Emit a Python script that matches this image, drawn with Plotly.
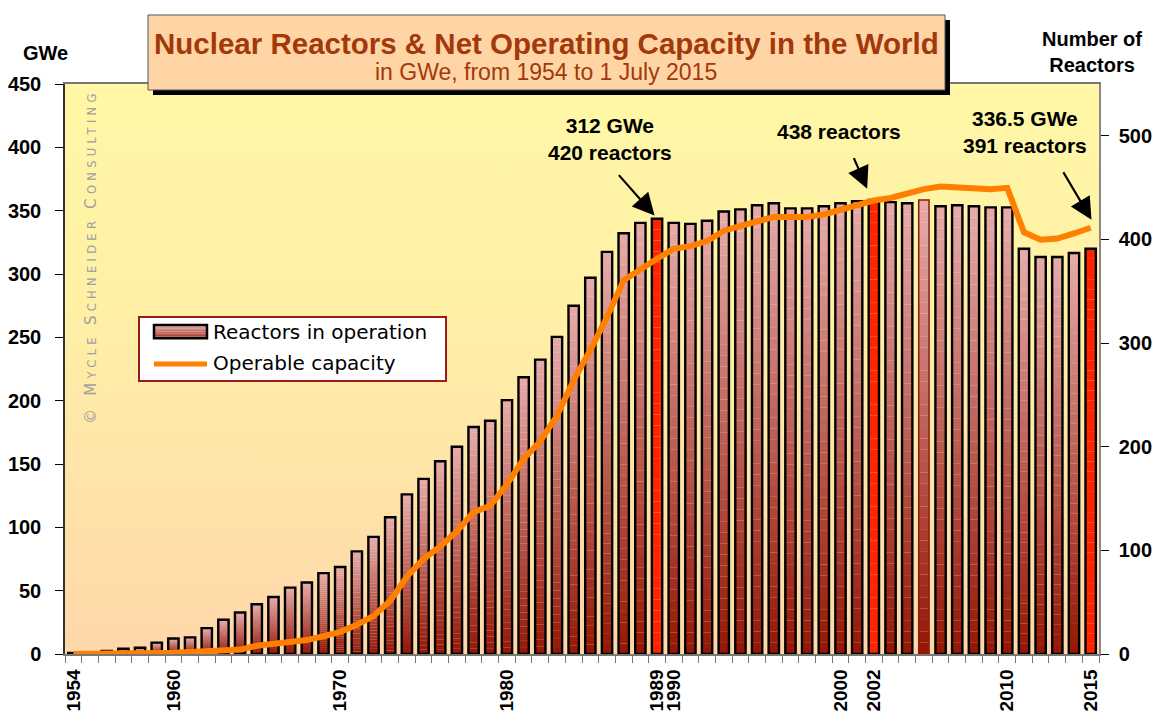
import plotly.graph_objects as go
import base64

# ---------------- data ----------------
years = list(range(1954, 2016))
reactors = [1, 1, 3, 5, 6, 11, 15, 16, 25, 33,
            40, 48, 55, 64, 69, 78, 84, 99, 113, 132,
            154, 169, 186, 200, 219, 225, 245, 267, 284, 306,
            336, 363, 388, 406, 416, 420, 416, 415, 418, 427,
            429, 433, 435, 430, 430, 432, 435, 437, 438, 436,
            435, 438, 432, 433, 432, 431, 431, 391, 383, 383,
            387, 391]
capacity_gwe = [0, 0, 0.05, 0.3, 0.5, 0.8, 1.0, 1.5, 2.0, 2.7,
                3.5, 6.5, 8, 9.5, 11, 14, 17.5, 23, 30, 42,
                61, 75, 85, 97, 112, 117, 134, 154, 168, 188,
                216, 240, 266, 295, 304, 312, 320, 322, 326, 334,
                338, 342, 345, 345, 345, 347, 351, 354, 358, 360,
                364, 367, 369, 368, 367, 367, 368, 333, 327, 328,
                332, 336.5]
highlight_years = [1989, 2002, 2015]
outline_alt_years = [2005]
x_tick_years = [1954, 1960, 1970, 1980, 1989, 1990, 2000, 2002, 2010, 2015]
left_ticks = list(range(0, 451, 50))
right_ticks = list(range(0, 501, 100))

# ---------------- geometry helpers (layout decoration only) ----------------
W, H = 1154, 714
L, R, T, B = 65, 55, 84, 60
PW, PH = W - L - R, H - T - B


def px(x):
    return (x - L) / PW


def py(y):
    return (H - B - y) / PH


def lerp(c0, c1, t):
    return 'rgb(%d,%d,%d)' % tuple(round(a + (b - a) * t) for a, b in zip(c0, c1))


C_BOT = (148, 22, 4)
C_TOP = (230, 172, 170)
RED = '#FF2400'

fig = go.Figure()

# gradient bars built from stacked slices
N = 40
for k in range(N):
    col = lerp(C_BOT, C_TOP, (k + 0.5) / N)
    colors = [RED if yr in highlight_years else col for yr in years]
    fig.add_trace(go.Bar(
        x=years, y=[v / N for v in reactors], base=[v * k / N for v in reactors],
        width=0.62, marker=dict(color=colors, line=dict(width=0)),
        yaxis='y', showlegend=False, hoverinfo='skip'))

# outlines
fig.add_trace(go.Bar(
    x=years, y=reactors, base=0, width=0.62,
    marker=dict(color='rgba(0,0,0,0)',
                line=dict(color=['#8B1A10' if yr in outline_alt_years else 'black' for yr in years],
                          width=[1.5 if yr in outline_alt_years else 2.4 for yr in years])),
    yaxis='y', showlegend=False, name='Reactors in operation'))

# capacity line
fig.add_trace(go.Scatter(
    x=years, y=capacity_gwe, yaxis='y2', mode='lines',
    line=dict(color='#FF7F00', width=6), name='Operable capacity', showlegend=False))

BOLD = dict(family='Liberation Sans, Arial', size=20, color='black', weight='bold')

fig.update_layout(
    width=W, height=H, margin=dict(l=L, r=R, t=T, b=B, autoexpand=False),
    paper_bgcolor='white', plot_bgcolor='rgba(0,0,0,0)',
    barmode='overlay', showlegend=False,
    xaxis=dict(range=[1953.5, 2015.5], tickmode='array', tickvals=x_tick_years, automargin=False,
               ticktext=[str(v) for v in x_tick_years], tickangle=-90, ticks='',
               tickfont=dict(family='Liberation Sans, Arial', size=19, color='black', weight='bold'),
               ticklabelstandoff=6,
               showline=True, linecolor='#777', linewidth=1.5, mirror=True,
               showgrid=False, zeroline=False,
               minor=dict(ticks='outside', ticklen=7, tickcolor='#777', tickmode='linear',
                          tick0=1953.5, dtick=1, showgrid=False)),
    yaxis=dict(range=[0, 550], side='right', tickmode='array', tickvals=right_ticks, automargin=False,
               ticks='outside', ticklen=8, tickcolor='black', ticklabelstandoff=6,
               showline=True, linecolor='#888', linewidth=1.5,
               showgrid=False, zeroline=False, tickfont=BOLD),
    yaxis2=dict(range=[0, 450], overlaying='y', side='left', tickmode='array', tickvals=left_ticks,
                automargin=False,
                ticks='outside', ticklen=8, tickcolor='black', ticklabelstandoff=10,
                showline=True, linecolor='#333', linewidth=1.5,
                showgrid=False, zeroline=False, tickfont=BOLD),
)

# plot background gradient
bg_svg = ('<svg xmlns="http://www.w3.org/2000/svg" width="100" height="100" preserveAspectRatio="none">'
          '<defs><linearGradient id="g" x1="0" y1="0" x2="0" y2="1">'
          '<stop offset="0" stop-color="#FFF7A6"/><stop offset="0.4" stop-color="#FFF0A6"/>'
          '<stop offset="1" stop-color="#FFD7AA"/></linearGradient></defs>'
          '<rect width="100" height="100" fill="url(#g)"/></svg>')
bg_uri = 'data:image/svg+xml;base64,' + base64.b64encode(bg_svg.encode()).decode()
fig.add_layout_image(dict(source=bg_uri, xref='paper', yref='paper', x=0, y=1, sizex=1, sizey=1,
                          xanchor='left', yanchor='top', sizing='stretch', layer='below'))

shapes = []
# title box with shadow
shapes.append(dict(type='rect', xref='paper', yref='paper', x0=px(153), x1=px(950), y0=py(95), y1=py(20),
                   fillcolor='black', line=dict(width=0), layer='above'))
shapes.append(dict(type='rect', xref='paper', yref='paper', x0=px(148), x1=px(945), y0=py(90), y1=py(15),
                   fillcolor='#FFD5A6', line=dict(color='#555', width=1), layer='above'))
# legend box
shapes.append(dict(type='rect', xref='paper', yref='paper', x0=px(139), x1=px(446), y0=py(381), y1=py(317),
                   fillcolor='white', line=dict(color='#9B1B1B', width=2), layer='above'))
# legend swatch gradient
NS = 8
for k in range(NS):
    y_top = 325 + 13.3 * k / NS
    y_bot = 325 + 13.3 * (k + 1) / NS
    shapes.append(dict(type='rect', xref='paper', yref='paper', x0=px(154), x1=px(207),
                       y0=py(y_bot), y1=py(y_top), fillcolor=lerp(C_TOP, C_BOT, (k + 0.5) / NS * 0.8),
                       line=dict(width=0), layer='above'))
shapes.append(dict(type='rect', xref='paper', yref='paper', x0=px(154), x1=px(207), y0=py(338.3), y1=py(325),
                   fillcolor='rgba(0,0,0,0)', line=dict(color='black', width=2.5), layer='above'))
shapes.append(dict(type='line', xref='paper', yref='paper', x0=px(154), x1=px(207), y0=py(364), y1=py(364),
                   line=dict(color='#FF7F00', width=5), layer='above'))
fig.update_layout(shapes=shapes)

TITLE_C = '#A3380A'
ann = []
ann.append(dict(x=px(546), y=py(43), text='Nuclear Reactors &amp; Net Operating Capacity in the World',
                font=dict(family='Liberation Sans, Arial', size=29.5, color=TITLE_C, weight='bold')))
ann.append(dict(x=px(546), y=py(72), text='in GWe, from 1954 to 1 July 2015',
                font=dict(family='Liberation Sans, Arial', size=23, color=TITLE_C)))
ann.append(dict(x=px(45), y=py(53), text='GWe', font=BOLD))
ann.append(dict(x=px(1092), y=py(52), text='Number of<br>Reactors', font=BOLD))
AF = dict(family='Liberation Sans, Arial', size=21, color='black', weight='bold')
ann.append(dict(x=px(610), y=py(139), text='312 GWe<br>420 reactors', font=AF))
ann.append(dict(x=px(839), y=py(131), text='438 reactors', font=AF))
ann.append(dict(x=px(1025), y=py(132), text='336.5 GWe<br>391 reactors', font=AF))
LF = dict(family='DejaVu Sans', size=20, color='black')
ann.append(dict(x=px(211), y=py(332), text='Reactors in operation', xanchor='left', font=LF))
ann.append(dict(x=px(211), y=py(363), text='Operable capacity', xanchor='left', font=LF))

sc = "font-size:11.5px;letter-spacing:4.3px"
cp = "font-size:15px;letter-spacing:4.3px"
wm = (f"<span style='{cp}'>© M</span><span style='{sc}'>YCLE </span>"
      f"<span style='{cp}'>S</span><span style='{sc}'>CHNEIDER </span>"
      f"<span style='{cp}'>C</span><span style='{sc}'>ONSULTING</span>")
ann.append(dict(x=px(91), y=py(257), text=wm, textangle=-90,
                font=dict(family='DejaVu Sans', size=13, color='#A0A0A0')))

for a in ann:
    a.setdefault('xref', 'paper')
    a.setdefault('yref', 'paper')
    a.setdefault('showarrow', False)
    a.setdefault('xanchor', 'center')
    a.setdefault('yanchor', 'middle')

# arrows pointing at bars (data coordinates on reactor axis)
arrows = [(1988.85, 423, -37, -42), (2001.6, 449, -14, -32), (2015.05, 419, -29, -49)]
for xa, ya, dx, dy in arrows:
    ann.append(dict(x=xa, y=ya, xref='x', yref='y', ax=dx, ay=dy, text='', showarrow=True,
                    arrowhead=2, arrowsize=2.0, arrowwidth=2.2, arrowcolor='black', standoff=0))

fig.update_layout(annotations=ann)
fig.write_html('out.html', config={'displayModeBar': False},
               post_script="document.body.style.margin='0';document.body.style.padding='0';")
